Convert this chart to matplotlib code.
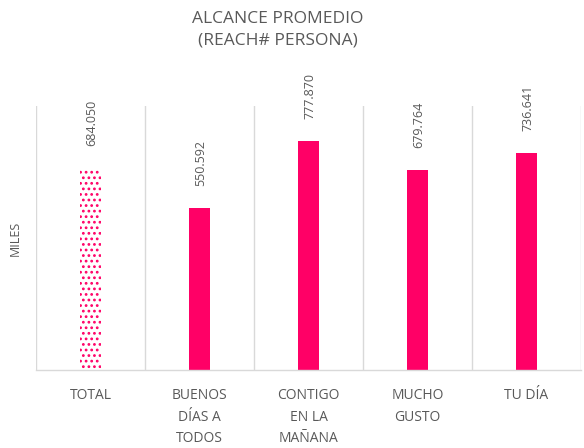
import matplotlib
matplotlib.use("Agg")
import matplotlib.pyplot as plt

categories = ["TOTAL", "BUENOS\nDÍAS A\nTODOS", "CONTIGO\nEN LA\nMAÑANA", "MUCHO\nGUSTO", "TU DÍA"]
values = [684.050, 550.592, 777.870, 679.764, 736.641]
labels = ["684.050", "550.592", "777.870", "679.764", "736.641"]

pink = "#FF0066"
gray = "#595959"
grid = "#D9D9D9"

plt.rcParams['font.family'] = ['Open Sans', 'DejaVu Sans']
plt.rcParams['hatch.linewidth'] = 1.2

fig = plt.figure(figsize=(5.84, 4.48), dpi=100)
ax = fig.add_axes([36/584, 1-370/448, 545/584, 264/448])

x = list(range(len(categories)))
for i, v in enumerate(values):
    if i == 0:
        ax.bar(i, v, width=0.19, color="white", edgecolor=pink, hatch="...", linewidth=0)
    else:
        ax.bar(i, v, width=0.19, color=pink, linewidth=0)
    ax.annotate(labels[i], (i, v), xytext=(1.2, 16), textcoords="offset points",
                rotation=90, ha="center", va="bottom", color=gray, fontsize=9)

ax.set_xlim(-0.5, len(categories) - 0.5)
ax.set_ylim(0, 897)
for b in [k + 0.5 for k in range(-1, len(categories))]:
    ax.axvline(b, color=grid, linewidth=1, zorder=0)
for s in ["top", "left", "right"]:
    ax.spines[s].set_visible(False)
ax.spines["bottom"].set_color(grid)
ax.spines["bottom"].set_linewidth(1)
ax.set_yticks([])
ax.set_xticks(x)
ax.set_xticklabels(categories, color=gray, fontsize=10, linespacing=1.6)
ax.tick_params(axis="x", length=0, pad=13)
ax.set_ylabel("MILES", color=gray, fontsize=9, labelpad=10)

fig.text(278 / 584, 1 - 11/448, "ALCANCE PROMEDIO\n(REACH# PERSONA)",
         ha="center", va="top", color=gray, fontsize=12.5, linespacing=1.45)

fig.savefig("out.png", dpi=100)
